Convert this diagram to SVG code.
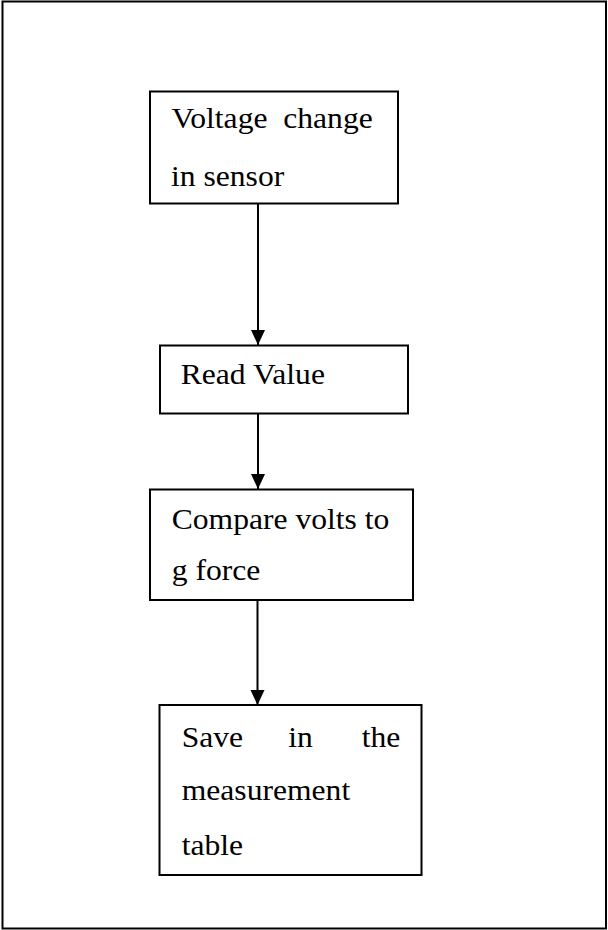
<svg xmlns="http://www.w3.org/2000/svg" width="608" height="930" viewBox="0 0 608 930">
  <style>
    .frame { fill: #ffffff; stroke: #000000; stroke-width: 2; }
    .box { fill: #ffffff; stroke: #000000; stroke-width: 2; }
    .label { font-family: 'Liberation Serif', 'Times New Roman', Times, serif; font-size: 29px; fill: #000000; }
    .link { stroke: #000000; stroke-width: 2; fill: none; marker-end: url(#arrow); }
  </style>
  <defs>
    <marker id="arrow" markerUnits="userSpaceOnUse" markerWidth="16" markerHeight="16" refX="15" refY="8" orient="auto">
      <path d="M0,1 L15,8 L0,15 z" fill="#000000"/>
    </marker>
  </defs>

  <!-- outer frame -->
  <rect class="frame" x="2.5" y="1.5" width="603.5" height="927"/>

  <!-- connectors -->
  <g id="connectors">
    <line class="link" x1="258" y1="203" x2="258" y2="345"/>
    <line class="link" x1="258" y1="413" x2="258" y2="489"/>
    <line class="link" x1="257.5" y1="600" x2="257.5" y2="705"/>
  </g>

  <!-- step 1 -->
  <g id="voltage-change">
    <rect class="box" x="150" y="91.5" width="248" height="112"/>
    <text class="label" x="171.5" y="128.5" transform="translate(171.5 0) scale(1.09 1) translate(-171.5 0)" xml:space="preserve">Voltage  change</text>
    <text class="label" x="171" y="186" transform="translate(171 0) scale(1.09 1) translate(-171 0)">in sensor</text>
  </g>

  <!-- step 2 -->
  <g id="read-value">
    <rect class="box" x="160" y="345.5" width="248" height="68"/>
    <text class="label" x="180.7" y="384.5" transform="translate(180.7 0) scale(1.09 1) translate(-180.7 0)">Read Value</text>
  </g>

  <!-- step 3 -->
  <g id="compare-volts">
    <rect class="box" x="150" y="489.5" width="263" height="110.5"/>
    <text class="label" x="171.7" y="529" transform="translate(171.7 0) scale(1.09 1) translate(-171.7 0)">Compare volts to</text>
    <text class="label" x="171.7" y="580" transform="translate(171.7 0) scale(1.09 1) translate(-171.7 0)">g force</text>
  </g>

  <!-- step 4 -->
  <g id="save-measurement">
    <rect class="box" x="159.5" y="705" width="262" height="170"/>
    <text class="label" x="181.7" y="746.7" transform="translate(181.7 0) scale(1.09 1) translate(-181.7 0)">Save</text>
    <text class="label" x="288.3" y="746.7" transform="translate(288.3 0) scale(1.09 1) translate(-288.3 0)">in</text>
    <text class="label" x="361.8" y="746.7" transform="translate(361.8 0) scale(1.09 1) translate(-361.8 0)">the</text>
    <text class="label" x="181.7" y="800" transform="translate(181.7 0) scale(1.09 1) translate(-181.7 0)">measurement</text>
    <text class="label" x="181.7" y="855" transform="translate(181.7 0) scale(1.09 1) translate(-181.7 0)">table</text>
  </g>
</svg>
